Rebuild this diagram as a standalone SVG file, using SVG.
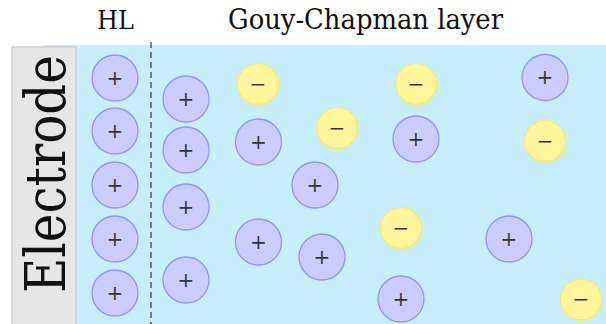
<svg xmlns="http://www.w3.org/2000/svg" width="606" height="324" viewBox="0 0 606 324">
<style>
.bg{fill:#c6eefb;}
.elec{fill:#e6e6e6;stroke:#c8c8c8;stroke-width:1.2;}
.pos{fill:#ccccff;stroke:#9494fa;stroke-width:1.3;}
.neg{fill:#fff59d;stroke:#fce96a;stroke-width:1.3;}
.sign{font-family:'DejaVu Serif','Liberation Serif',serif;font-size:20px;text-anchor:middle;fill:#333;}
.lbl{font-family:'DejaVu Serif','Liberation Serif',serif;fill:#111;}
.dash{stroke:#444;stroke-width:1.3;stroke-dasharray:6 4;fill:none;}
</style>
<rect class="bg" x="43" y="45" width="563" height="279"/>
<g id="electrode">
<rect class="elec" x="12" y="47" width="64" height="278"/>
<text class="lbl" font-size="56" text-anchor="middle" transform="translate(65,174) rotate(-90)" textLength="238" lengthAdjust="spacingAndGlyphs">Electrode</text>
</g>
<g id="labels">
<text class="lbl" x="115.5" y="29" font-size="26" text-anchor="middle" textLength="37" lengthAdjust="spacingAndGlyphs">HL</text>
<text class="lbl" x="365.5" y="28.5" font-size="27" text-anchor="middle" textLength="275" lengthAdjust="spacingAndGlyphs">Gouy-Chapman layer</text>
</g>
<g id="connectors">
<line class="dash" x1="151" y1="42" x2="151" y2="324"/>
</g>
<g id="p1"><circle class="pos" cx="115" cy="78" r="23"/><text class="sign" x="115" y="84.5">+</text></g>
<g id="p2"><circle class="pos" cx="115" cy="131" r="23"/><text class="sign" x="115" y="137.5">+</text></g>
<g id="p3"><circle class="pos" cx="115" cy="185" r="23"/><text class="sign" x="115" y="191.5">+</text></g>
<g id="p4"><circle class="pos" cx="115" cy="239" r="23"/><text class="sign" x="115" y="245.5">+</text></g>
<g id="p5"><circle class="pos" cx="115" cy="293" r="23"/><text class="sign" x="115" y="299.5">+</text></g>
<g id="p6"><circle class="pos" cx="186" cy="99" r="23"/><text class="sign" x="186" y="105.5">+</text></g>
<g id="p7"><circle class="pos" cx="186" cy="150" r="23"/><text class="sign" x="186" y="156.5">+</text></g>
<g id="p8"><circle class="pos" cx="186" cy="207" r="23"/><text class="sign" x="186" y="213.5">+</text></g>
<g id="p9"><circle class="pos" cx="186" cy="280" r="23"/><text class="sign" x="186" y="286.5">+</text></g>
<g id="n1"><circle class="neg" cx="258" cy="84" r="20.5"/><text class="sign" x="258" y="90.5">−</text></g>
<g id="p10"><circle class="pos" cx="258.5" cy="142" r="23"/><text class="sign" x="258.5" y="148.5">+</text></g>
<g id="n2"><circle class="neg" cx="337" cy="128" r="20.5"/><text class="sign" x="337" y="134.5">−</text></g>
<g id="p11"><circle class="pos" cx="315" cy="185" r="23"/><text class="sign" x="315" y="191.5">+</text></g>
<g id="p12"><circle class="pos" cx="258.5" cy="242" r="23"/><text class="sign" x="258.5" y="248.5">+</text></g>
<g id="p13"><circle class="pos" cx="322" cy="257" r="23"/><text class="sign" x="322" y="263.5">+</text></g>
<g id="n3"><circle class="neg" cx="416" cy="84" r="20.5"/><text class="sign" x="416" y="90.5">−</text></g>
<g id="p14"><circle class="pos" cx="416" cy="139" r="23"/><text class="sign" x="416" y="145.5">+</text></g>
<g id="n4"><circle class="neg" cx="401" cy="228" r="20.5"/><text class="sign" x="401" y="234.5">−</text></g>
<g id="p15"><circle class="pos" cx="401" cy="299" r="23"/><text class="sign" x="401" y="305.5">+</text></g>
<g id="p16"><circle class="pos" cx="545" cy="77.5" r="23"/><text class="sign" x="545" y="84">+</text></g>
<g id="n5"><circle class="neg" cx="545" cy="141" r="20.5"/><text class="sign" x="545" y="147.5">−</text></g>
<g id="p17"><circle class="pos" cx="509" cy="239" r="23"/><text class="sign" x="509" y="245.5">+</text></g>
<g id="n6"><circle class="neg" cx="581" cy="299.5" r="20.5"/><text class="sign" x="581" y="306">−</text></g>
</svg>
